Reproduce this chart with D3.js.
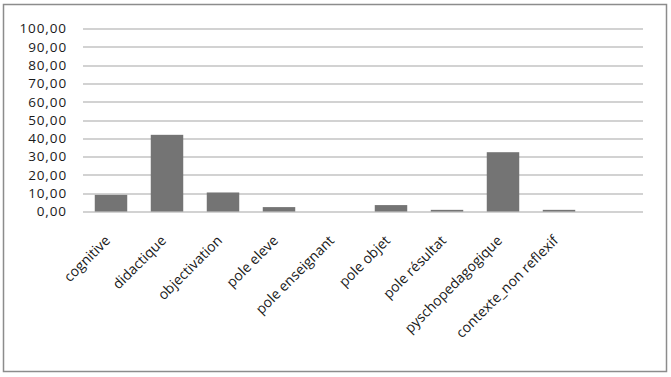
<!DOCTYPE html>
<html>
<head>
<meta charset="utf-8">
<script src="https://cdn.jsdelivr.net/npm/d3@7"></script>
<style>
  body { margin: 0; background: #fff; }
  svg { display: block; }
</style>
</head>
<body>
<div id="chart"></div>
<script>
// categories (the last one is an empty slot in the original)
const categories = ["cognitive", "didactique", "objectivation", "pole eleve", "pole enseignant",
  "pole objet", "pole résultat", "pyschopedagogique", "contexte_non reflexif", ""];
const values = [9.1, 41.9, 10.4, 2.4, 0, 3.5, 0.9, 32.4, 0.9, 0];
const yTicks = [0, 10, 20, 30, 40, 50, 60, 70, 80, 90, 100];

const W = 671, H = 377;
const margin = { top: 28.5, right: 28, bottom: 165.5, left: 83 };
const width = W - margin.left - margin.right;
const height = H - margin.top - margin.bottom;

const svg = d3.select("#chart").append("svg")
  .attr("width", W)
  .attr("height", H);

// outer frame
svg.append("rect")
  .attr("x", 3.5).attr("y", 4.5)
  .attr("width", 663).attr("height", 367)
  .attr("fill", "#fff")
  .attr("stroke", "#8c8c8c")
  .attr("stroke-width", 1.5);

const g = svg.append("g")
  .attr("transform", `translate(${margin.left},${margin.top})`);

const x = d3.scaleBand()
  .domain(d3.range(categories.length))
  .range([0, width])
  .paddingInner(0.42)
  .paddingOuter(0.21);

const y = d3.scaleLinear()
  .domain([0, 100])
  .range([height, 0]);

const fmt = d => d3.format(".2f")(d).replace(".", ",");

// grid
g.append("g")
  .selectAll("line")
  .data(yTicks)
  .join("line")
  .attr("x1", 0)
  .attr("x2", width)
  .attr("y1", d => Math.round(y(d)) + 0.5)
  .attr("y2", d => Math.round(y(d)) + 0.5)
  .attr("stroke", "#a6a6a6")
  .attr("stroke-width", 1.2);

// y axis labels
const yAxis = g.append("g")
  .call(d3.axisLeft(y).tickValues(yTicks).tickSize(0).tickPadding(16).tickFormat(fmt));
yAxis.select(".domain").remove();
yAxis.selectAll("text")
  .attr("fill", "#1a1a1a")
  .style("font-family", "'Open Sans', sans-serif")
  .style("font-size", "13.5px")
  .style("letter-spacing", "0.9px");

// bars
g.selectAll(".bar")
  .data(values)
  .join("rect")
  .attr("class", "bar")
  .attr("x", (d, i) => x(i))
  .attr("y", d => y(d))
  .attr("width", x.bandwidth())
  .attr("height", d => height - y(d))
  .attr("fill", "#747474");

// x labels, rotated
g.append("g")
  .selectAll("text")
  .data(categories)
  .join("text")
  .attr("transform", (d, i) => `translate(${x(i) + x.bandwidth() / 2},${height + 30}) rotate(-45)`)
  .attr("text-anchor", "end")
  .attr("fill", "#1a1a1a")
  .style("font-family", "'Open Sans', sans-serif")
  .style("font-size", "14px")
  .text(d => d);
</script>
</body>
</html>
